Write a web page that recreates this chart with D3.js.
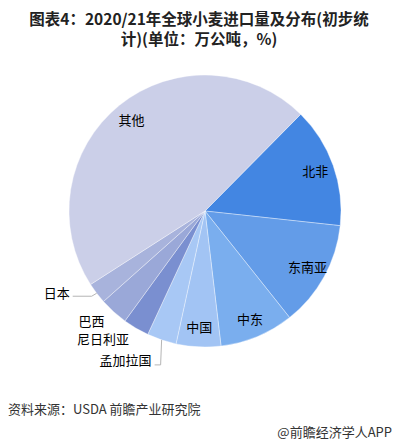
<!DOCTYPE html>
<html>
<head>
<meta charset="utf-8">
<script src="https://cdn.jsdelivr.net/npm/d3@7/dist/d3.min.js"></script>
<style>
  html, body { margin: 0; padding: 0; background: #fff; }
  svg { display: block; font-family: 'Noto Sans CJK SC', 'Noto Sans', sans-serif; }
</style>
</head>
<body>
<div id="chart"></div>
<script>
// regions, clockwise from 北非 (share of 2020/21 imports, %)
var regions = ['北非', '东南亚', '中东', '中国', '孟加拉国', '尼日利亚', '巴西', '日本', '其他']
var shares = [14.3, 12.6, 8.8, 5.3, 3.5, 3.1, 3.4, 2.5, 46.5]
var sliceColors = ['#4386e2', '#639ce8', '#7aaeee', '#a2c4f4', '#a8c8f5', '#7a8fd0', '#9aa8d8', '#a8b3dc', '#cbcfe8']
var outside = ['孟加拉国', '尼日利亚', '巴西', '日本']
var titleLines = ['图表4：2020/21年全球小麦进口量及分布(初步统', '计)(单位：万公吨，%)']

var width = 395
var height = 442
var cx = 205
var cy = 211
var radius = 136

var svg = d3.select('#chart').append('svg')
  .attr('width', width)
  .attr('height', height)

// title, wrapped on two lines like the original
svg.append('g').selectAll('text')
  .data(titleLines)
  .enter()
  .append('text')
  .attr('x', 199)
  .attr('y', function (d, i) { return 25 + i * 20 })
  .attr('text-anchor', 'middle')
  .attr('font-size', 15.5)
  .attr('font-weight', 'bold')
  .attr('fill', '#222')
  .text(function (d) { return d })

var data = regions.map(function (r, i) { return { name: r, value: shares[i], color: sliceColors[i] } })

var startAngle = 44.7 * Math.PI / 180
var pie = d3.pie()
  .sort(null)
  .value(function (d) { return d.value })
  .startAngle(startAngle)
  .endAngle(startAngle + 2 * Math.PI)

var arc = d3.arc().innerRadius(0).outerRadius(radius)
var labelArc = d3.arc().innerRadius(radius * 0.86).outerRadius(radius * 0.86)
var outerArc = d3.arc().innerRadius(radius * 1.1).outerRadius(radius * 1.1)
var edgeArc = d3.arc().innerRadius(radius).outerRadius(radius)

var g = svg.append('g').attr('transform', 'translate(' + cx + ',' + cy + ')')
var arcs = pie(data)

g.selectAll('path')
  .data(arcs)
  .enter()
  .append('path')
  .attr('d', arc)
  .attr('fill', function (d) { return d.data.color })
  .attr('stroke', 'rgba(255,255,255,0.45)')
  .attr('stroke-width', 0.8)

// labels inside the pie
g.append('g').selectAll('text')
  .data(arcs.filter(function (d) { return outside.indexOf(d.data.name) < 0 }))
  .enter()
  .append('text')
  .attr('transform', function (d) { return 'translate(' + labelArc.centroid(d) + ')' })
  .attr('text-anchor', 'middle')
  .attr('dy', '0.35em')
  .attr('font-size', 13)
  .attr('fill', '#000')
  .text(function (d) { return d.data.name })

// labels outside, two of them with leader lines
var outArcs = arcs.filter(function (d) { return outside.indexOf(d.data.name) >= 0 })
var labelG = g.append('g')
outArcs.forEach(function (d) {
  var edge = edgeArc.centroid(d)
  var pos = outerArc.centroid(d)
  var pts = null
  if (d.data.name === '日本') {
    pts = [edge, [edge[0] - 5, edge[1] + 3], [edge[0] - 24, edge[1] + 3]]
    pos = [edge[0] - 27, edge[1]]
  } else if (d.data.name === '孟加拉国') {
    pts = [edge, [edge[0] - 1, edge[1] + 25], [edge[0] - 7, edge[1] + 25]]
    pos = [edge[0] - 10, edge[1] + 21]
  }
  if (pts) {
    labelG.append('polyline')
      .attr('points', pts.map(function (p) { return p.join(',') }).join(' '))
      .attr('fill', 'none')
      .attr('stroke', '#b5b5b5')
      .attr('stroke-width', 1)
  }
  labelG.append('text')
    .attr('x', pos[0])
    .attr('y', pos[1])
    .attr('text-anchor', 'end')
    .attr('dy', '0.35em')
    .attr('font-size', 13)
    .attr('fill', '#000')
    .text(d.data.name)
})

// footer
svg.append('text')
  .attr('x', 8)
  .attr('y', 414)
  .attr('font-size', 13)
  .attr('fill', '#333')
  .text('资料来源：USDA 前瞻产业研究院')

svg.append('text')
  .attr('x', 392)
  .attr('y', 437)
  .attr('text-anchor', 'end')
  .attr('font-size', 13)
  .attr('fill', '#333')
  .text('@前瞻经济学人APP')
</script>
</body>
</html>
